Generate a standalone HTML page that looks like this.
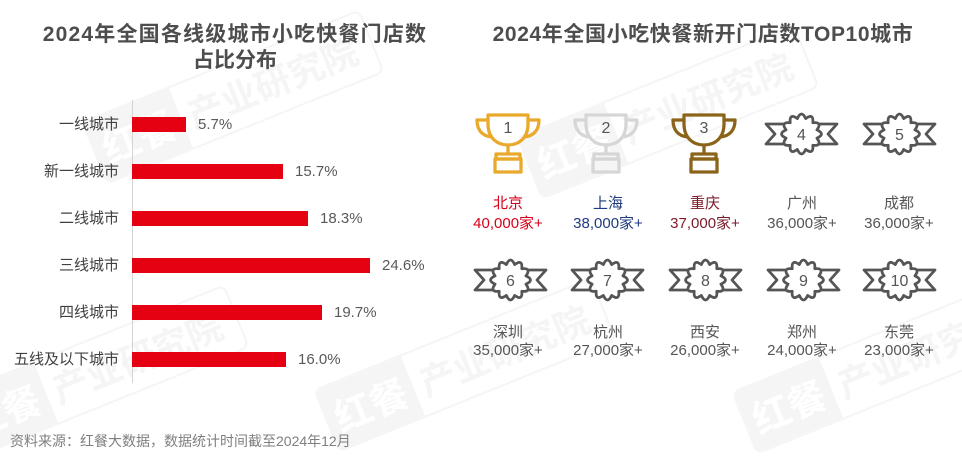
<!DOCTYPE html>
<html><head><meta charset="utf-8">
<style>
*{margin:0;padding:0;box-sizing:border-box}
body{width:962px;height:456px;background:#fff;position:relative;overflow:hidden;font-family:"Liberation Sans","Noto Sans CJK SC",sans-serif}
.a{position:absolute;white-space:nowrap}
.title{font-weight:bold;color:#4d4d4d;font-size:21px;line-height:26px;text-align:center}
.lab{font-size:15px;line-height:20px;color:#404040;text-align:right;width:119px;left:0}
.val{font-size:15px;line-height:20px;color:#595959}
.bar{position:absolute;left:132px;height:15px;background:#e50012}
.cn{font-size:15px;line-height:20px;width:120px;text-align:center;color:#555}
.wm{position:absolute;width:300px;height:68px;border:2px solid #f5f5f5;border-radius:8px;transform:translate(-50%,-50%) rotate(-22deg);display:flex;align-items:center}
.wm .sq{width:92px;height:64px;background:#f5f5f5;color:#fff;font-size:38px;font-weight:bold;line-height:64px;text-align:center;font-family:"Noto Sans CJK SC",sans-serif;border-radius:6px 0 0 6px}
.wm .tx{font-size:36px;color:#f5f5f5;font-weight:bold;padding-left:8px;font-family:"Noto Sans CJK SC",sans-serif;white-space:nowrap}
svg{position:absolute;overflow:visible}
</style></head><body>

<div class="wm" style="left:233px;top:97px"><div class="sq">红餐</div><div class="tx">产业研究院</div></div>
<div class="wm" style="left:98px;top:372px"><div class="sq">红餐</div><div class="tx">产业研究院</div></div>
<div class="wm" style="left:668px;top:112px"><div class="sq">红餐</div><div class="tx">产业研究院</div></div>
<div class="wm" style="left:465px;top:365px"><div class="sq">红餐</div><div class="tx">产业研究院</div></div>
<div class="wm" style="left:883px;top:367px"><div class="sq">红餐</div><div class="tx">产业研究院</div></div>

<div class="a title" style="left:35px;width:400px;top:22px;letter-spacing:1.2px">2024年全国各线级城市小吃快餐门店数</div>
<div class="a title" style="left:35px;width:400px;top:48px">占比分布</div>
<div class="a title" style="left:453px;width:500px;top:22px;letter-spacing:0.6px">2024年全国小吃快餐新开门店数TOP10城市</div>

<div class="a" style="left:132px;top:100px;width:1px;height:283px;background:#d4d4d4"></div>

<div class="a lab" style="top:115px">一线城市</div>
<div class="a lab" style="top:162px">新一线城市</div>
<div class="a lab" style="top:209px">二线城市</div>
<div class="a lab" style="top:256px">三线城市</div>
<div class="a lab" style="top:303px">四线城市</div>
<div class="a lab" style="top:350px">五线及以下城市</div>

<div class="bar" style="top:117px;width:54px"></div>
<div class="bar" style="top:164px;width:151px"></div>
<div class="bar" style="top:211px;width:176px"></div>
<div class="bar" style="top:258px;width:238px"></div>
<div class="bar" style="top:305px;width:190px"></div>
<div class="bar" style="top:352px;width:154px"></div>

<div class="a val" style="left:198px;top:114.5px">5.7%</div>
<div class="a val" style="left:295px;top:161.5px">15.7%</div>
<div class="a val" style="left:320px;top:208.5px">18.3%</div>
<div class="a val" style="left:382px;top:255.5px">24.6%</div>
<div class="a val" style="left:334px;top:302.5px">19.7%</div>
<div class="a val" style="left:298px;top:349.5px">16.0%</div>

<div class="a" style="left:10px;top:431px;font-size:14px;line-height:20px;color:#7f7f7f">资料来源：红餐大数据，数据统计时间截至2024年12月</div>

<!-- trophies -->
<svg style="left:475px;top:112px" width="66" height="62" viewBox="0 0 66 62">
<g fill="none" stroke="#e9a92b" stroke-width="3.3" stroke-linejoin="round">
<path d="M13,3 H53 V12 C53,26 44,33 33,33 C22,33 13,26 13,12 Z"/>
<path d="M13,8 H2 C2,18 7,24 17,25"/><path d="M53,8 H64 C64,18 59,24 49,25"/>
<path d="M33,33 V42"/><rect x="21" y="42" width="24" height="5"/><rect x="20" y="47" width="26" height="13"/>
</g><text x="33" y="21" font-size="16" fill="#555" text-anchor="middle" font-family="Liberation Sans">1</text></svg>

<svg style="left:573px;top:112px" width="66" height="62" viewBox="0 0 66 62">
<g fill="none" stroke="#d6d6d6" stroke-width="3.3" stroke-linejoin="round">
<path d="M13,3 H53 V12 C53,26 44,33 33,33 C22,33 13,26 13,12 Z"/>
<path d="M13,8 H2 C2,18 7,24 17,25"/><path d="M53,8 H64 C64,18 59,24 49,25"/>
<path d="M33,33 V42"/><rect x="21" y="42" width="24" height="5"/><rect x="20" y="47" width="26" height="13"/>
</g><text x="33" y="21" font-size="16" fill="#555" text-anchor="middle" font-family="Liberation Sans">2</text></svg>

<svg style="left:671px;top:112px" width="66" height="62" viewBox="0 0 66 62">
<g fill="none" stroke="#8b6419" stroke-width="3.3" stroke-linejoin="round">
<path d="M13,3 H53 V12 C53,26 44,33 33,33 C22,33 13,26 13,12 Z"/>
<path d="M13,8 H2 C2,18 7,24 17,25"/><path d="M53,8 H64 C64,18 59,24 49,25"/>
<path d="M33,33 V42"/><rect x="21" y="42" width="24" height="5"/><rect x="20" y="47" width="26" height="13"/>
</g><text x="33" y="21" font-size="16" fill="#555" text-anchor="middle" font-family="Liberation Sans">3</text></svg>

<!-- badges -->
<svg style="left:763.5px;top:111px" width="75" height="46" viewBox="0 0 75 46"><g fill="none" stroke="#555" stroke-width="2.8" stroke-linejoin="round"><path d="M33.36,7.55 Q37.5,-1.5 41.64,7.55 Q49.75,1.78 48.81,11.69 Q58.72,10.75 52.95,18.86 Q62,23 52.95,27.14 Q58.72,35.25 48.81,34.31 Q49.75,44.22 41.64,38.45 Q37.5,47.5 33.36,38.45 Q25.25,44.22 26.19,34.31 Q16.28,35.25 22.05,27.14 Q13,23 22.05,18.86 Q16.28,10.75 26.19,11.69 Q25.25,1.78 33.36,7.55 Z"/><path d="M21,13 H2 L11,23 L2,33 H21 M54,13 H73 L64,23 L73,33 H54"/></g><text x="37.5" y="29" font-size="16" fill="#555" text-anchor="middle" font-family="Liberation Sans">4</text></svg>

<svg style="left:861.5px;top:111px" width="75" height="46" viewBox="0 0 75 46"><g fill="none" stroke="#555" stroke-width="2.8" stroke-linejoin="round"><path d="M33.36,7.55 Q37.5,-1.5 41.64,7.55 Q49.75,1.78 48.81,11.69 Q58.72,10.75 52.95,18.86 Q62,23 52.95,27.14 Q58.72,35.25 48.81,34.31 Q49.75,44.22 41.64,38.45 Q37.5,47.5 33.36,38.45 Q25.25,44.22 26.19,34.31 Q16.28,35.25 22.05,27.14 Q13,23 22.05,18.86 Q16.28,10.75 26.19,11.69 Q25.25,1.78 33.36,7.55 Z"/><path d="M21,13 H2 L11,23 L2,33 H21 M54,13 H73 L64,23 L73,33 H54"/></g><text x="37.5" y="29" font-size="16" fill="#555" text-anchor="middle" font-family="Liberation Sans">5</text></svg>

<svg style="left:472.5px;top:257px" width="75" height="46" viewBox="0 0 75 46"><g fill="none" stroke="#555" stroke-width="2.8" stroke-linejoin="round"><path d="M33.36,7.55 Q37.5,-1.5 41.64,7.55 Q49.75,1.78 48.81,11.69 Q58.72,10.75 52.95,18.86 Q62,23 52.95,27.14 Q58.72,35.25 48.81,34.31 Q49.75,44.22 41.64,38.45 Q37.5,47.5 33.36,38.45 Q25.25,44.22 26.19,34.31 Q16.28,35.25 22.05,27.14 Q13,23 22.05,18.86 Q16.28,10.75 26.19,11.69 Q25.25,1.78 33.36,7.55 Z"/><path d="M21,13 H2 L11,23 L2,33 H21 M54,13 H73 L64,23 L73,33 H54"/></g><text x="37.5" y="29" font-size="16" fill="#555" text-anchor="middle" font-family="Liberation Sans">6</text></svg>

<svg style="left:569.5px;top:257px" width="75" height="46" viewBox="0 0 75 46"><g fill="none" stroke="#555" stroke-width="2.8" stroke-linejoin="round"><path d="M33.36,7.55 Q37.5,-1.5 41.64,7.55 Q49.75,1.78 48.81,11.69 Q58.72,10.75 52.95,18.86 Q62,23 52.95,27.14 Q58.72,35.25 48.81,34.31 Q49.75,44.22 41.64,38.45 Q37.5,47.5 33.36,38.45 Q25.25,44.22 26.19,34.31 Q16.28,35.25 22.05,27.14 Q13,23 22.05,18.86 Q16.28,10.75 26.19,11.69 Q25.25,1.78 33.36,7.55 Z"/><path d="M21,13 H2 L11,23 L2,33 H21 M54,13 H73 L64,23 L73,33 H54"/></g><text x="37.5" y="29" font-size="16" fill="#555" text-anchor="middle" font-family="Liberation Sans">7</text></svg>

<svg style="left:667.5px;top:257px" width="75" height="46" viewBox="0 0 75 46"><g fill="none" stroke="#555" stroke-width="2.8" stroke-linejoin="round"><path d="M33.36,7.55 Q37.5,-1.5 41.64,7.55 Q49.75,1.78 48.81,11.69 Q58.72,10.75 52.95,18.86 Q62,23 52.95,27.14 Q58.72,35.25 48.81,34.31 Q49.75,44.22 41.64,38.45 Q37.5,47.5 33.36,38.45 Q25.25,44.22 26.19,34.31 Q16.28,35.25 22.05,27.14 Q13,23 22.05,18.86 Q16.28,10.75 26.19,11.69 Q25.25,1.78 33.36,7.55 Z"/><path d="M21,13 H2 L11,23 L2,33 H21 M54,13 H73 L64,23 L73,33 H54"/></g><text x="37.5" y="29" font-size="16" fill="#555" text-anchor="middle" font-family="Liberation Sans">8</text></svg>

<svg style="left:765.5px;top:257px" width="75" height="46" viewBox="0 0 75 46"><g fill="none" stroke="#555" stroke-width="2.8" stroke-linejoin="round"><path d="M33.36,7.55 Q37.5,-1.5 41.64,7.55 Q49.75,1.78 48.81,11.69 Q58.72,10.75 52.95,18.86 Q62,23 52.95,27.14 Q58.72,35.25 48.81,34.31 Q49.75,44.22 41.64,38.45 Q37.5,47.5 33.36,38.45 Q25.25,44.22 26.19,34.31 Q16.28,35.25 22.05,27.14 Q13,23 22.05,18.86 Q16.28,10.75 26.19,11.69 Q25.25,1.78 33.36,7.55 Z"/><path d="M21,13 H2 L11,23 L2,33 H21 M54,13 H73 L64,23 L73,33 H54"/></g><text x="37.5" y="29" font-size="16" fill="#555" text-anchor="middle" font-family="Liberation Sans">9</text></svg>

<svg style="left:861.5px;top:257px" width="75" height="46" viewBox="0 0 75 46"><g fill="none" stroke="#555" stroke-width="2.8" stroke-linejoin="round"><path d="M33.36,7.55 Q37.5,-1.5 41.64,7.55 Q49.75,1.78 48.81,11.69 Q58.72,10.75 52.95,18.86 Q62,23 52.95,27.14 Q58.72,35.25 48.81,34.31 Q49.75,44.22 41.64,38.45 Q37.5,47.5 33.36,38.45 Q25.25,44.22 26.19,34.31 Q16.28,35.25 22.05,27.14 Q13,23 22.05,18.86 Q16.28,10.75 26.19,11.69 Q25.25,1.78 33.36,7.55 Z"/><path d="M21,13 H2 L11,23 L2,33 H21 M54,13 H73 L64,23 L73,33 H54"/></g><text x="37.5" y="29" font-size="16" fill="#555" text-anchor="middle" font-family="Liberation Sans">10</text></svg>

<!-- city labels row 1 -->
<div class="a cn" style="left:448px;top:194px;color:#d7001a">北京</div>
<div class="a cn" style="left:448px;top:214px;color:#d7001a">40,000家+</div>
<div class="a cn" style="left:548px;top:194px;color:#1f3a7f">上海</div>
<div class="a cn" style="left:548px;top:214px;color:#1f3a7f">38,000家+</div>
<div class="a cn" style="left:645px;top:194px;color:#7b1a28">重庆</div>
<div class="a cn" style="left:645px;top:214px;color:#7b1a28">37,000家+</div>
<div class="a cn" style="left:742px;top:194px">广州</div>
<div class="a cn" style="left:742px;top:214px">36,000家+</div>
<div class="a cn" style="left:839px;top:194px">成都</div>
<div class="a cn" style="left:839px;top:214px">36,000家+</div>

<!-- city labels row 2 -->
<div class="a cn" style="left:448px;top:323px">深圳</div>
<div class="a cn" style="left:448px;top:341px">35,000家+</div>
<div class="a cn" style="left:548px;top:323px">杭州</div>
<div class="a cn" style="left:548px;top:341px">27,000家+</div>
<div class="a cn" style="left:645px;top:323px">西安</div>
<div class="a cn" style="left:645px;top:341px">26,000家+</div>
<div class="a cn" style="left:742px;top:323px">郑州</div>
<div class="a cn" style="left:742px;top:341px">24,000家+</div>
<div class="a cn" style="left:839px;top:323px">东莞</div>
<div class="a cn" style="left:839px;top:341px">23,000家+</div>

</body></html>
